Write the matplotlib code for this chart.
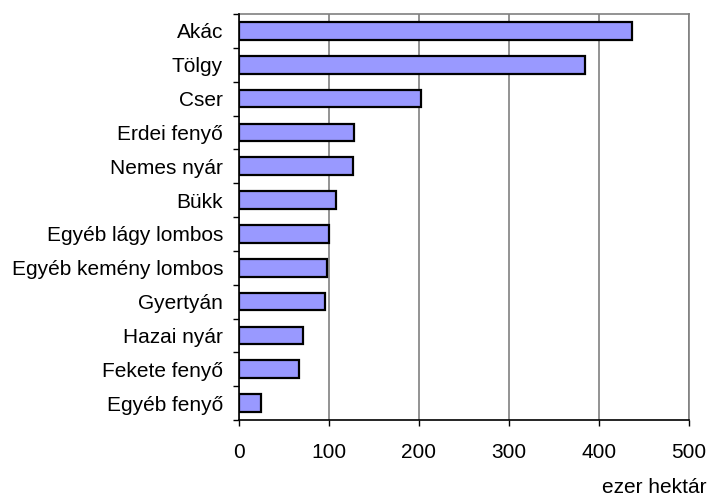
import matplotlib
matplotlib.use("Agg")
import matplotlib.pyplot as plt
import numpy as np
from matplotlib.ticker import FixedLocator

categories = ["Akác", "Tölgy", "Cser", "Erdei fenyő", "Nemes nyár", "Bükk",
              "Egyéb lágy lombos", "Egyéb kemény lombos", "Gyertyán",
              "Hazai nyár", "Fekete fenyő", "Egyéb fenyő"]
values = [437, 384, 202, 128, 127, 108, 100, 98, 96, 71, 67, 24]
xticks = [0, 100, 200, 300, 400, 500]
xlabel = "ezer hektár"

plt.rcParams['font.family'] = ['Liberation Sans', 'DejaVu Sans']

fig = plt.figure(figsize=(7.09, 4.97), dpi=100)
ax = fig.add_axes([239/709, (497-420)/497, 450/709, (420-14)/497])

n = len(categories)
y = np.arange(n)
ax.barh(y, values, height=0.52, color="#9999FF", edgecolor="black", linewidth=1.6, zorder=3)
ax.set_ylim(n - 0.5, -0.5)
ax.set_xlim(0, 500)
ax.set_xticks(xticks)
ax.set_xticklabels([str(t) for t in xticks], fontsize=15)
ax.set_yticks(y)
ax.set_yticklabels(categories, fontsize=15)
ax.yaxis.set_minor_locator(FixedLocator(np.arange(-0.5, n, 1.0)))
ax.tick_params(axis='y', which='major', length=0, pad=11.5)
ax.tick_params(axis='y', which='minor', length=4.3, width=1, direction='out', color='black')
ax.tick_params(axis='x', which='major', length=4.3, width=1, direction='out', pad=12.5, color='black')

ax.grid(axis='x', color='#808080', linewidth=1.2, zorder=0)
for s in ['top', 'right']:
    ax.spines[s].set_color('#808080')
    ax.spines[s].set_linewidth(1.2)
for s in ['left', 'bottom']:
    ax.spines[s].set_color('black')
    ax.spines[s].set_linewidth(1.2)
ax.spines['left'].set_zorder(4)

fig.text(707/709, 1 - 493/497, xlabel, ha='right', va='baseline', fontsize=15)

fig.savefig("out.png", dpi=100)
